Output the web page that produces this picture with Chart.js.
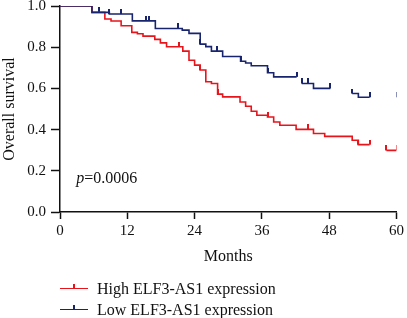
<!DOCTYPE html>
<html>
<head>
<meta charset="utf-8">
<script src="https://cdn.jsdelivr.net/npm/chart.js@4/dist/chart.umd.min.js"></script>
<style>
  body { margin: 0; background: #fff; }
  #wrap { position: relative; width: 407px; height: 318px; }
  .legend { position: absolute; left: 60px; top: 278px; font: 16px "Liberation Serif", serif; color: #111; }
  .item { display: flex; align-items: center; height: 21px; white-space: nowrap; }
  .swatch { position: relative; width: 28px; height: 1.5px; margin-right: 9px; }
  .swatch i { position: absolute; left: 13px; bottom: 0; width: 1.5px; height: 5px; background: inherit; }
</style>
</head>
<body>
<div id="wrap">
  <canvas id="kmChart" width="407" height="318"></canvas>
  <div class="legend" id="legend"></div>
</div>
<script>
// Kaplan-Meier steps (months, survival after the drop)
// a null survival breaks the line where the original has a gap
const highTimes = [0, 5.7, 8.0, 9.1, 10.9, 12.8, 13.8, 14.8, 16.9, 17.9, 19.0, 21.9, 23.0, 24.0, 25.0, 26.0, 27.0, 28.1, 29.0, 32.1, 33.1, 34.1, 35.1, 37.0, 38.1, 39.2, 42.1, 45.2, 47.2, 52.1, 53.2, 55.2, 55.2, 58.2, 60];
const highSurv = [1, 0.969, 0.937, 0.927, 0.904, 0.872, 0.865, 0.854, 0.838, 0.821, 0.802, 0.781, 0.737, 0.713, 0.689, 0.632, 0.624, 0.572, 0.559, 0.534, 0.513, 0.489, 0.470, 0.461, 0.437, 0.421, 0.401, 0.381, 0.367, 0.348, 0.327, 0.327, null, 0.299, 0.299];
const highCensor = [21.2, 25.0, 28.1, 37.0, 44.2, 53.2, 55.2, 58.2, 60];

const lowTimes = [0, 5.7, 8.8, 12.9, 17.0, 21.8, 23.0, 25.0, 26.0, 27.0, 29.0, 32.2, 33.1, 34.1, 37.0, 38.1, 42.2, 42.2, 43.1, 45.2, 48.2, 48.2, 52.1, 53.2, 55.2];
const lowSurv = [1, 0.969, 0.961, 0.928, 0.891, 0.883, 0.867, 0.815, 0.803, 0.781, 0.755, 0.732, 0.723, 0.710, 0.676, 0.656, 0.656, null, 0.624, 0.600, 0.600, null, 0.575, 0.557, 0.557];
const lowCensor = [6.9, 8.8, 10.9, 15.3, 15.9, 21.1, 25.0, 28.0, 32.2, 37.0, 42.2, 43.1, 44.2, 48.2, 52.1, 55.2, 60];

const seriesNames = ['High ELF3-AS1 expression', 'Low ELF3-AS1 expression'];
const xTicks = [0, 12, 24, 36, 48, 60];
const yTicks = [0, 0.2, 0.4, 0.6, 0.8, 1.0];
const yTickLabels = ['0.0', '0.2', '0.4', '0.6', '0.8', '1.0'];
const pValue = '0.0006';

const RED = '#e8141c';
const BLUE = '#18256e';

// survival level of the step curve at time t
const survAt = (times, surv, t) => {
  let s = 1;
  for (let i = 0; i < times.length; i++) {
    if (times[i] <= t && surv[i] !== null) s = surv[i];
  }
  return s;
};

// small upward tick used for censored cases
const tickMark = (color) => {
  const c = document.createElement('canvas');
  c.width = 2; c.height = 10;
  const g = c.getContext('2d');
  g.fillStyle = color;
  g.fillRect(0, 0, 2, 5);
  return c;
};

const stepLine = (times, surv, color) => ({
  data: times.map((t, i) => ({ x: t, y: surv[i] })),
  borderColor: color,
  borderWidth: 1.6,
  stepped: true,
  spanGaps: false,
  pointRadius: 0,
  fill: false
});

const censorMarks = (cens, times, surv, color) => ({
  data: cens.map(t => ({ x: t, y: survAt(times, surv, t) })),
  showLine: false,
  pointStyle: tickMark(color),
  pointRadius: 3,
  borderColor: color,
  backgroundColor: color
});

const pLabel = {
  id: 'pLabel',
  afterDatasetsDraw(chart) {
    const { ctx, scales: { x, y } } = chart;
    const px = x.getPixelForValue(2.9);
    const py = y.getPixelForValue(0.16);
    ctx.save();
    ctx.fillStyle = '#111';
    ctx.textBaseline = 'middle';
    ctx.font = 'italic 16px "Liberation Serif"';
    ctx.fillText('p', px, py);
    const w = ctx.measureText('p').width;
    ctx.font = '16px "Liberation Serif"';
    ctx.fillText('=' + pValue, px + w, py);
    ctx.restore();
  }
};

Chart.defaults.font.family = '"Liberation Serif", serif';
Chart.defaults.font.size = 15;
Chart.defaults.color = '#111';

const ctx = document.getElementById('kmChart').getContext('2d');
const kmChart = new Chart(ctx, {
  type: 'line',
  data: {
    datasets: [
      stepLine(lowTimes, lowSurv, BLUE),
      stepLine(highTimes, highSurv, RED),
      censorMarks(lowCensor, lowTimes, lowSurv, BLUE),
      censorMarks(highCensor, highTimes, highSurv, RED)
    ]
  },
  options: {
    responsive: false,
    animation: false,
    layout: { padding: { left: 0, right: 9, top: 6, bottom: 52 } },
    plugins: { legend: { display: false }, tooltip: { enabled: false } },
    scales: {
      x: {
        type: 'linear',
        min: 0, max: 60,
        afterBuildTicks: axis => { axis.ticks = xTicks.map(v => ({ value: v })); },
        afterFit: scale => { scale.height = 54; },
        ticks: { padding: 3, maxRotation: 0 },
        grid: { drawOnChartArea: false, color: '#111', tickLength: 7, tickWidth: 1.5 },
        border: { color: '#111', width: 1.5 },
        title: { display: true, text: 'Months', font: { size: 16 }, padding: 0 }
      },
      y: {
        type: 'linear',
        min: 0, max: 1,
        afterBuildTicks: axis => { axis.ticks = yTicks.map(v => ({ value: v })); },
        afterFit: scale => { scale.width = 60; scale.paddingTop = 0; scale.paddingBottom = 0; },
        ticks: { padding: 5, callback: v => yTickLabels[yTicks.indexOf(v)] },
        grid: { drawOnChartArea: false, color: '#111', tickLength: 9, tickWidth: 1.5 },
        border: { color: '#111', width: 1.5 },
        title: { display: true, text: 'Overall survival', font: { size: 16 }, padding: 0 }
      }
    }
  },
  plugins: [pLabel]
});

// legend below the plot
const legendEl = document.getElementById('legend');
[RED, BLUE].forEach((color, i) => {
  const item = document.createElement('div');
  item.className = 'item';
  item.innerHTML = '<span class="swatch" style="background:' + color + '"><i></i></span><span>' + seriesNames[i] + '</span>';
  legendEl.appendChild(item);
});
</script>
</body>
</html>
